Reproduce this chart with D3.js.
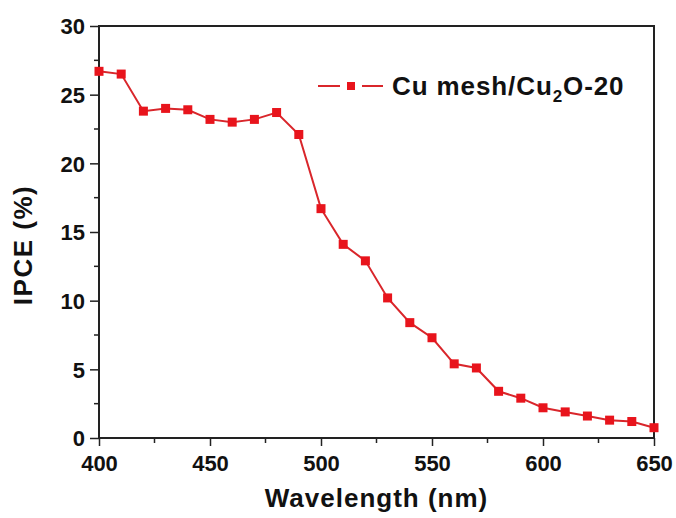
<!DOCTYPE html>
<html>
<head>
<meta charset="utf-8">
<script src="https://cdn.jsdelivr.net/npm/d3@7/dist/d3.min.js"></script>
<style>
  html, body { margin: 0; padding: 0; background: #fff; }
  svg { display: block; }
  text { font-family: "Liberation Sans", Arial, sans-serif; font-weight: bold; fill: #111; }
</style>
</head>
<body>
<svg id="chart" width="676" height="518"></svg>
<script>
// IPCE spectrum of the Cu mesh/Cu2O-20 electrode
const wavelengths = [400, 410, 420, 430, 440, 450, 460, 470, 480, 490, 500, 510, 520,
  530, 540, 550, 560, 570, 580, 590, 600, 610, 620, 630, 640, 650];
const ipce = [26.7, 26.5, 23.8, 24.0, 23.9, 23.2, 23.0, 23.2, 23.7, 22.1, 16.7, 14.1, 12.9,
  10.2, 8.4, 7.3, 5.4, 5.1, 3.4, 2.9, 2.2, 1.9, 1.6, 1.3, 1.2, 0.75];
const xTicks = [400, 450, 500, 550, 600, 650];
const yTicks = [0, 5, 10, 15, 20, 25, 30];
const seriesName = "Cu mesh/Cu";

const svg = d3.select("#chart");
const plotL = 99, plotR = 654, plotT = 26, plotB = 438;

const x = d3.scaleLinear().domain([400, 650]).range([plotL, plotR]);
const y = d3.scaleLinear().domain([0, 30]).range([plotB, plotT]);

const axisColor = "#222";

// minor ticks
const g = svg.append("g");
const xMinor = d3.range(425, 650, 50);
const yMinor = d3.range(2.5, 30, 5);
g.selectAll(".xm").data(xMinor).join("line")
  .attr("x1", d => x(d)).attr("x2", d => x(d))
  .attr("y1", plotB).attr("y2", plotB + 5)
  .attr("stroke", axisColor).attr("stroke-width", 1.5);
g.selectAll(".ym").data(yMinor).join("line")
  .attr("y1", d => y(d)).attr("y2", d => y(d))
  .attr("x1", plotL - 5).attr("x2", plotL)
  .attr("stroke", axisColor).attr("stroke-width", 1.5);

// main axes
const xAxis = d3.axisBottom(x).tickValues(xTicks).tickSize(8).tickPadding(4).tickFormat(d3.format("d"));
const yAxis = d3.axisLeft(y).tickValues(yTicks).tickSize(9).tickPadding(5).tickFormat(d3.format("d"));

const gx = svg.append("g").attr("transform", `translate(0,${plotB})`).call(xAxis);
const gy = svg.append("g").attr("transform", `translate(${plotL},0)`).call(yAxis);
[gx, gy].forEach(a => {
  a.select(".domain").remove();
  a.selectAll(".tick line").attr("stroke", axisColor).attr("stroke-width", 1.5);
  a.selectAll(".tick text").style("font-size", "22px").attr("fill", "#111")
    .style("font-family", "'Liberation Sans', Arial, sans-serif").style("font-weight", "bold");
});
gx.selectAll(".tick text").attr("dy", "0.95em");
gy.selectAll(".tick text").attr("dy", "0.36em");

// frame
svg.append("rect")
  .attr("x", plotL).attr("y", plotT)
  .attr("width", plotR - plotL).attr("height", plotB - plotT)
  .attr("fill", "none").attr("stroke", axisColor).attr("stroke-width", 2);

// series line
const red = "#e8141c";
const line = d3.line().x((d, i) => x(wavelengths[i])).y(d => y(d));
svg.append("path").datum(ipce)
  .attr("d", line)
  .attr("fill", "none").attr("stroke", "#d9262b").attr("stroke-width", 2);

// markers
const ms = 9;
svg.selectAll(".pt").data(ipce).join("rect")
  .attr("x", (d, i) => x(wavelengths[i]) - ms / 2)
  .attr("y", d => y(d) - ms / 2)
  .attr("width", ms).attr("height", ms)
  .attr("fill", red);

// axis titles
svg.append("text")
  .attr("x", (plotL + plotR) / 2).attr("y", 507)
  .attr("text-anchor", "middle")
  .style("font-size", "26px").style("letter-spacing", "1px")
  .text("Wavelength (nm)");

svg.append("text")
  .attr("transform", `translate(32,${(plotT + plotB) / 2 + 13}) rotate(-90)`)
  .attr("text-anchor", "middle")
  .style("font-size", "26px").style("letter-spacing", "1.5px")
  .text("IPCE (%)");

// legend: line segments with a gap around the marker
const lg = svg.append("g");
[[318, 340], [362, 383]].forEach(([a, b]) => {
  lg.append("line").attr("x1", a).attr("x2", b).attr("y1", 86).attr("y2", 86)
    .attr("stroke", "#d9262b").attr("stroke-width", 2);
});
lg.append("rect").attr("x", 351 - 4).attr("y", 86 - 4)
  .attr("width", 8).attr("height", 8).attr("fill", red);
const lt = lg.append("text").attr("x", 392).attr("y", 95)
  .style("font-size", "26px").style("letter-spacing", "0.9px");
lt.append("tspan").text(seriesName);
lt.append("tspan").attr("dy", 7).style("font-size", "17px").text("2");
lt.append("tspan").attr("dy", -7).text("O-20");
</script>
</body>
</html>
